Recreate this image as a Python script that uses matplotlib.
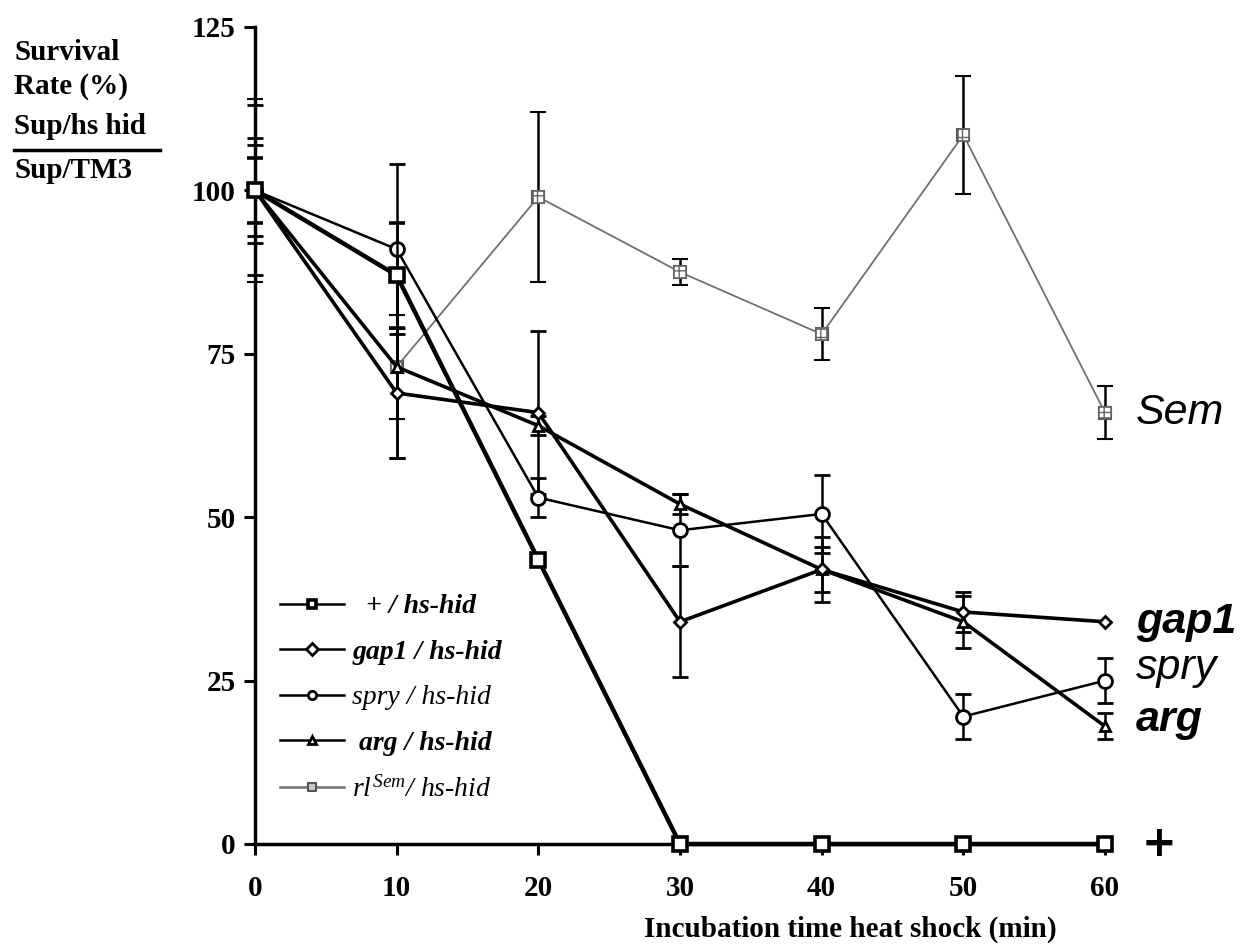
import numpy as np
import matplotlib
matplotlib.use("Agg")
import matplotlib.pyplot as plt

nan = np.nan

# ── data ────────────────────────────────────────────────────────────────────
times = [0, 10, 20, 30, 40, 50, 60]

plus_vals = [100, 87, 43.5, 0, 0, 0, 0]
plus_err  = [5, 8, nan, nan, nan, nan, nan]

gap1_vals = [100, 69, 66, 34, 42, 35.5, 34]
gap1_err  = [13, 10, 12.5, 8.5, 5, 3, nan]

spry_vals = [100, 91, 53, 48, 50.5, 19.5, 25]
spry_err  = [8, 13, 3, 5.5, 6, 3.5, 3.5]

arg_vals  = [100, 73, 64, 52, 42, 34, 18]
arg_err   = [7, 14, 1.5, 1.5, 3.5, 4, 2]

sem_vals  = [100, 73, 99, 87.5, 78, 108.5, 66]
sem_err   = [14, 8, 13, 2, 4, 9, 4]

legend_labels = ["  + / hs-hid", "gap1 / hs-hid", "spry / hs-hid",
                 " arg / hs-hid", r"$\mathit{rl}^{\mathit{Sem}}$/ hs-hid"]
end_labels = ["Sem", "gap1", "spry", "arg"]
end_y      = [66, 34, 27, 19]

xticks = [0, 10, 20, 30, 40, 50, 60]
yticks = [0, 25, 50, 75, 100, 125]

plt.rcParams["mathtext.fontset"] = "custom"
plt.rcParams["mathtext.rm"] = "Liberation Serif:italic"
plt.rcParams["mathtext.it"] = "Liberation Serif:italic"
plt.rcParams["mathtext.bf"] = "Liberation Serif:bold"

W, H = 1252, 948
fig = plt.figure(figsize=(W / 100, H / 100), dpi=100)
ax = fig.add_axes([255 / W, 104 / H, 850 / W, 817 / H])

eb_kw = dict(ecolor="black", elinewidth=1.8, capsize=6, capthick=2.2, clip_on=False)

h_sem = ax.errorbar(times, sem_vals, yerr=sem_err, color="#707070", lw=1.3,
                    marker="s", ms=9, mfc="#c8c8c8", mec="#555555", mew=1.5,
                    zorder=2, **eb_kw)
ax.scatter(times, sem_vals, marker="s", s=70, facecolor="white", edgecolor="#666666",
           hatch="++", linewidths=1.2, zorder=3, clip_on=False)

h_spry = ax.errorbar(times, spry_vals, yerr=spry_err, color="black", lw=1.8,
                     marker="o", ms=10, mfc="white", mec="black", mew=2,
                     zorder=4, **eb_kw)
h_arg = ax.errorbar(times, arg_vals, yerr=arg_err, color="black", lw=2.6,
                    marker="^", ms=7, mfc="white", mec="black", mew=2,
                    zorder=4, **eb_kw)
h_gap1 = ax.errorbar(times, gap1_vals, yerr=gap1_err, color="black", lw=2.6,
                     marker="D", ms=6, mfc="white", mec="black", mew=2,
                     zorder=4, **eb_kw)
h_plus = ax.errorbar(times, plus_vals, yerr=plus_err, color="black", lw=3.2,
                     marker="s", ms=10, mfc="white", mec="black", mew=2.6,
                     zorder=5, **eb_kw)

ax.set_xlim(0, 60)
ax.set_ylim(0, 125)
ax.set_xticks(xticks)
ax.set_yticks(yticks)
for s in ["top", "right"]:
    ax.spines[s].set_visible(False)
for s in ["left", "bottom"]:
    ax.spines[s].set_linewidth(2.5)
ax.tick_params(axis="both", direction="out", length=8, width=2.2, pad=6)
ax.tick_params(axis="x", pad=14)
for lab in ax.get_xticklabels() + ax.get_yticklabels():
    lab.set_fontfamily("Liberation Serif")
    lab.set_fontweight("bold")
    lab.set_fontsize(21)

ax.set_xlabel("Incubation time heat shock (min)", fontfamily="Liberation Serif",
              fontweight="bold", fontsize=21)
ax.xaxis.set_label_coords(595 / 850, -72 / 817)

# y label block top-left
lab_kw = dict(fontfamily="Liberation Serif", fontweight="bold", fontsize=21,
              ha="left", va="center", transform=fig.transFigure)
fig.text(14 / W, 1 - 52 / H, "Survival", **lab_kw)
fig.text(14 / W, 1 - 86 / H, "Rate (%)", **lab_kw)
fig.text(14 / W, 1 - 126 / H, "Sup/hs hid", **lab_kw)
fig.text(14 / W, 1 - 170 / H, "Sup/TM3", **lab_kw)
fig.add_artist(plt.Line2D([14 / W, 160 / W], [1 - 150 / H, 1 - 150 / H],
                          color="black", lw=2.5, transform=fig.transFigure))

# labels at the right end of the curves
weights = ["normal", "bold", "normal", "bold"]
for txt, yv, wt in zip(end_labels, end_y, weights):
    ax.text(62.2, yv, txt, fontfamily="Liberation Sans", fontstyle="italic",
            fontweight=wt, fontsize=31, ha="left", va="center", clip_on=False)
ax.text(63.8, 0, "+", fontfamily="DejaVu Sans", fontweight="bold", fontsize=30,
        ha="center", va="center", clip_on=False)

handles = [h_plus[0], h_gap1[0], h_spry[0], h_arg[0], h_sem[0]]
leg = ax.legend(handles, legend_labels, loc="upper left",
                bbox_to_anchor=(280 / W, 1 - 594 / H), bbox_transform=fig.transFigure,
                frameon=False, handlelength=2.3, handletextpad=0.3,
                labelspacing=0.72, borderpad=0, borderaxespad=0,
                prop={"family": "Liberation Serif", "style": "italic",
                      "weight": "bold", "size": 20})
for i, t in enumerate(leg.get_texts()):
    if i in (2, 4):
        t.set_fontweight("normal")
for lh in leg.legend_handles:
    lh.set_markersize(6)
    lh.set_linewidth(1.8)

fig.savefig("out.png", dpi=100)
